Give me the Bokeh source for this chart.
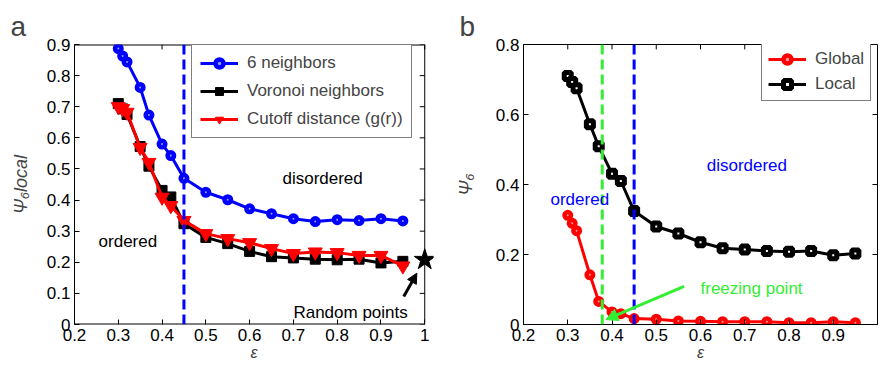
from bokeh.plotting import figure
from bokeh.layouts import row
from bokeh.models import (ColumnDataSource, Legend, LegendItem, Span, Label, Arrow,
                          NormalHead, FixedTicker)
from bokeh.embed import file_html
from bokeh.resources import INLINE

# ---------------- data ----------------
eps = [0.30, 0.31, 0.32, 0.35, 0.37, 0.40, 0.42, 0.45, 0.50, 0.55, 0.60, 0.65,
       0.70, 0.75, 0.80, 0.85, 0.90, 0.95]
six_neighbors = [0.887, 0.863, 0.844, 0.762, 0.673, 0.580, 0.543, 0.470, 0.425, 0.401,
                 0.372, 0.356, 0.340, 0.331, 0.337, 0.334, 0.340, 0.333]
voronoi = [0.710, 0.693, 0.675, 0.572, 0.509, 0.431, 0.410, 0.324, 0.280, 0.260,
           0.235, 0.218, 0.214, 0.210, 0.208, 0.210, 0.198, 0.203]
cutoff = [0.700, 0.694, 0.682, 0.569, 0.521, 0.409, 0.382, 0.334, 0.292, 0.276,
          0.263, 0.244, 0.228, 0.233, 0.231, 0.222, 0.222, 0.188]
global_psi = [0.312, 0.289, 0.268, 0.142, 0.066, 0.036, 0.031, 0.017, 0.015, 0.010,
              0.009, 0.008, 0.008, 0.008, 0.005, 0.005, 0.008, 0.005]
local_psi = voronoi
random_x = [1.0]
random_y = [0.208]
transition_eps = 0.45
freezing_eps = 0.378

xticks_a = [0.2, 0.3, 0.4, 0.5, 0.6, 0.7, 0.8, 0.9, 1.0]
xlabels_a = ["0.2", "0.3", "0.4", "0.5", "0.6", "0.7", "0.8", "0.9", "1"]
yticks_a = [0, 0.1, 0.2, 0.3, 0.4, 0.5, 0.6, 0.7, 0.8, 0.9]
ylabels_a = ["0", "0.1", "0.2", "0.3", "0.4", "0.5", "0.6", "0.7", "0.8", "0.9"]
xticks_b = [0.2, 0.3, 0.4, 0.5, 0.6, 0.7, 0.8, 0.9]
xlabels_b = ["0.2", "0.3", "0.4", "0.5", "0.6", "0.7", "0.8", "0.9"]
yticks_b = [0, 0.2, 0.4, 0.6, 0.8]
ylabels_b = ["0", "0.2", "0.4", "0.6", "0.8"]

FONT = "Liberation Sans"
FS = "17px"
BLUE = "#0000ff"
RED = "#ff0000"
GREEN = "#33ee33"
TICK = 5  # px

src = ColumnDataSource(dict(x=eps, six=six_neighbors, vor=voronoi, cut=cutoff,
                            glob=global_psi, loc=local_psi))


def style_axes(p, box_x, box_y, fw, fh, xt, xl, yt, yl, ylabel, ystand, letter):
    p.xaxis.ticker = FixedTicker(ticks=xt)
    p.yaxis.ticker = FixedTicker(ticks=yt)
    p.xaxis.major_label_overrides = {t: l for t, l in zip(xt, xl)}
    p.yaxis.major_label_overrides = {t: l for t, l in zip(yt, yl)}
    for ax in [p.xaxis[0], p.yaxis[0]]:
        ax.major_tick_in = TICK
        ax.major_tick_out = 0
        ax.minor_tick_line_color = None
        ax.major_label_text_font = FONT
        ax.major_label_text_font_size = FS
        ax.major_label_text_color = "black"
        ax.axis_line_color = "black"
        ax.major_label_standoff = 4
    p.yaxis.axis_label = ylabel
    p.yaxis.axis_label_text_font = FONT
    p.yaxis.axis_label_text_font_size = "18px"
    p.yaxis.axis_label_text_font_style = "italic"
    p.yaxis.axis_label_standoff = ystand
    p.xaxis.axis_label = "ε"
    p.xaxis.axis_label_text_font = FONT
    p.xaxis.axis_label_text_font_size = "16px"
    p.xaxis.axis_label_text_font_style = "italic"
    p.xaxis.axis_label_standoff = 0
    p.grid.visible = False
    p.title.text = letter
    p.title.text_font = FONT
    p.title.text_font_size = "28px"
    p.title.text_font_style = "normal"
    p.title.align = "left"
    p.title.offset = -64
    p.title.standoff = 6
    # box (top / right edges) with inward ticks
    x0, x1 = box_x
    y0, y1 = box_y
    dy = TICK * (y1 - y0) / fh
    dx = TICK * (x1 - x0) / fw
    p.segment(x0=xt, x1=xt, y0=[y1] * len(xt), y1=[y1 - dy] * len(xt),
              line_color="black", line_width=1)
    p.segment(x0=[x1] * len(yt), x1=[x1 - dx] * len(yt), y0=yt, y1=yt,
              line_color="black", line_width=1)


# ---------------- panel a ----------------
# x range reaches a little past 1 so the random-points star is not cut off;
# the box is drawn explicitly at x = 1.
box_xa, box_ya = (0.2, 1.0), (0, 0.9)
pa = figure(width=440, height=365, x_range=(0.2, 1.02), y_range=box_ya,
            output_backend="svg", toolbar_location=None,
            min_border_left=74, min_border_right=7, min_border_top=44, min_border_bottom=41)
pa.outline_line_color = None
style_axes(pa, box_xa, box_ya, 350, 280, xticks_a, xlabels_a, yticks_a, ylabels_a,
           "Ψ₆local", 13, "a")
pa.xaxis.axis_line_color = None
pa.xaxis.bounds = box_xa
pa.segment(x0=[box_xa[0]], x1=[box_xa[1]], y0=[box_ya[1]], y1=[box_ya[1]],
           line_color="black", line_width=2)
pa.segment(x0=[box_xa[1]], x1=[box_xa[1]], y0=[box_ya[0]], y1=[box_ya[1]],
           line_color="black", line_width=1)
pa.segment(x0=[box_xa[0]], x1=[box_xa[1]], y0=[box_ya[0]], y1=[box_ya[0]],
           line_color="black", line_width=2)

pa.add_layout(Span(location=transition_eps, dimension="height", line_color=BLUE,
                   line_width=3, line_dash="10 5"))

l1 = pa.line("x", "six", source=src, line_color=BLUE, line_width=3)
m1 = pa.scatter("x", "six", source=src, marker="circle", size=6.5, fill_color="#9999ff",
                line_color=BLUE, line_width=4.5)
l2 = pa.line("x", "vor", source=src, line_color="black", line_width=3)
m2 = pa.scatter("x", "vor", source=src, marker="square", size=10, fill_color="black",
                line_color="black")
l3 = pa.line("x", "cut", source=src, line_color=RED, line_width=3)
m3 = pa.scatter("x", "cut", source=src, marker="inverted_triangle", size=14,
                fill_color=RED, line_color=RED)

pa.scatter(random_x, random_y, marker="star", size=22, fill_color="black",
           line_color="black")
pa.add_layout(Arrow(end=NormalHead(size=10, fill_color="black", line_color="black"),
                    x_start=0.952, y_start=0.09, x_end=0.982, y_end=0.165,
                    line_color="black", line_width=3))

for txt, x, y in [("disordered", 0.675, 0.468), ("ordered", 0.255, 0.268),
                  ("Random points", 0.700, 0.040)]:
    pa.add_layout(Label(x=x, y=y, text=txt, text_font=FONT, text_font_size=FS,
                        text_color="black", text_baseline="middle"))

leg_a = Legend(items=[LegendItem(label="6 neighbors", renderers=[l1, m1]),
                      LegendItem(label="Voronoi neighbors", renderers=[l2, m2]),
                      LegendItem(label="Cutoff distance (g(r))", renderers=[l3, m3])],
               location=(117, 186), glyph_width=38, glyph_height=20, label_height=20,
               spacing=8, padding=8, margin=0, label_text_font=FONT,
               label_text_font_size=FS, border_line_color="black", label_standoff=9,
               background_fill_alpha=1)
pa.add_layout(leg_a, "center")

# ---------------- panel b ----------------
box_xb, box_yb = (0.2, 1.0), (0, 0.8)
pb = figure(width=440, height=365, x_range=box_xb, y_range=box_yb,
            output_backend="svg", toolbar_location=None,
            min_border_left=83, min_border_right=3, min_border_top=40, min_border_bottom=41)
pb.outline_line_color = "black"
style_axes(pb, box_xb, box_yb, 354, 284, xticks_b, xlabels_b, yticks_b, ylabels_b,
           "Ψ₆", 17, "b")

pb.add_layout(Span(location=freezing_eps, dimension="height", line_color=GREEN,
                   line_width=3, line_dash="10 5"))
pb.add_layout(Span(location=transition_eps, dimension="height", line_color=BLUE,
                   line_width=3, line_dash="10 5"))

g1 = pb.line("x", "glob", source=src, line_color=RED, line_width=3)
gm = pb.scatter("x", "glob", source=src, marker="circle", size=6.5, fill_color="#ff9999",
                line_color=RED, line_width=4.5)
k1 = pb.line("x", "loc", source=src, line_color="black", line_width=3)
km = pb.scatter("x", "loc", source=src, marker="square", size=7, fill_color="white",
                line_color="black", line_width=5)

pb.add_layout(Arrow(end=NormalHead(size=12, fill_color=GREEN, line_color=GREEN),
                    x_start=0.563, y_start=0.109, x_end=0.386, y_end=0.014,
                    line_color=GREEN, line_width=3))

for txt, x, y, c in [("ordered", 0.261, 0.357, BLUE), ("disordered", 0.614, 0.453, BLUE),
                     ("freezing point", 0.600, 0.104, GREEN)]:
    pb.add_layout(Label(x=x, y=y, text=txt, text_font=FONT, text_font_size=FS,
                        text_color=c, text_baseline="middle"))

leg_b = Legend(items=[LegendItem(label="Global", renderers=[g1, gm]),
                      LegendItem(label="Local", renderers=[k1, km])],
               location=(238, 223), glyph_width=38, glyph_height=20, label_height=20,
               spacing=5, padding=6, margin=0, label_text_font=FONT,
               label_text_font_size=FS, border_line_color="black", label_standoff=9,
               background_fill_alpha=1)
pb.add_layout(leg_b, "center")

layout = row(pa, pb)
open("out.html", "w").write(file_html(layout, INLINE))
